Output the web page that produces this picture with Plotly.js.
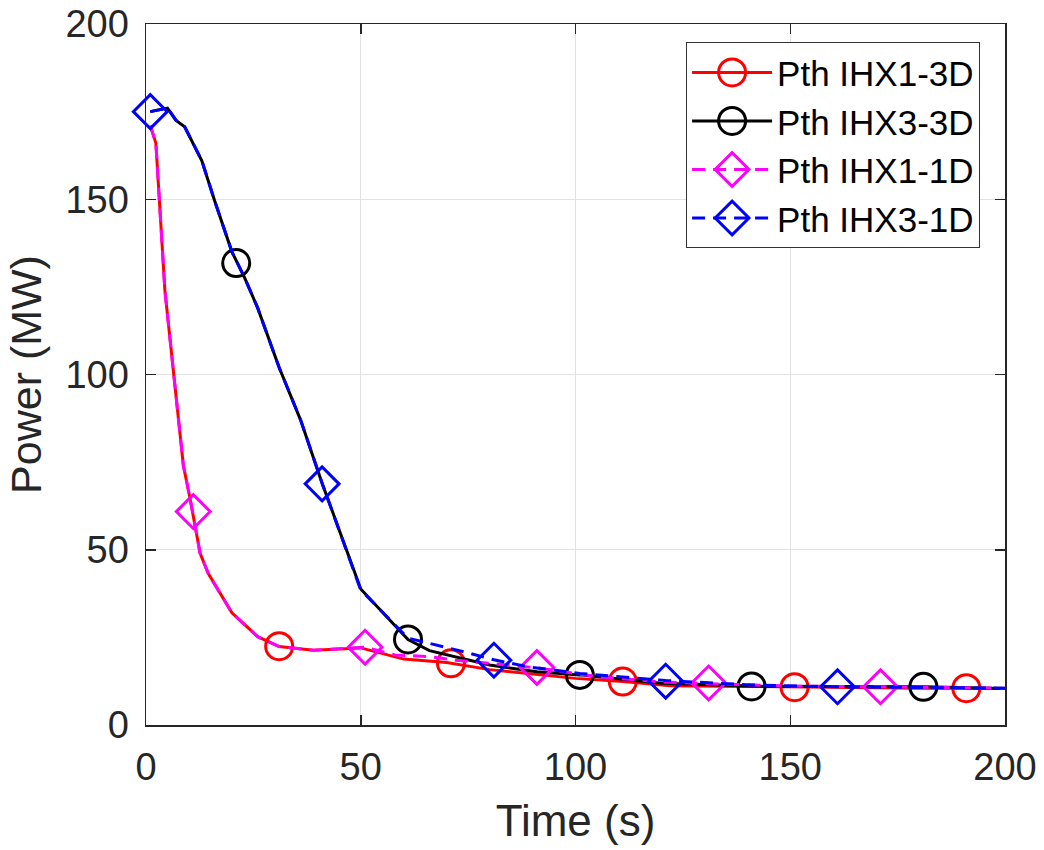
<!DOCTYPE html>
<html>
<head>
<meta charset="utf-8">
<script src="https://cdn.plot.ly/plotly-3.0.1.min.js"></script>
<style>body{margin:0;background:#fff}#chart{width:1044px;height:850px}</style>
</head>
<body>
<div id="chart"></div>
<script>
// IHX1-3D (red)
var t_r = [1, 2.3, 4.4, 6.4, 8.7, 10.2, 12.6, 14.5, 20, 26, 31, 39, 50, 60, 70, 80, 100, 111, 122, 140, 160, 180, 200];
var p_r = [171, 166, 124, 100.5, 74, 65, 49, 43.2, 32, 25.2, 22.4, 21.3, 22, 18.8, 17.8, 15.8, 13.3, 12.4, 11.2, 11.0, 10.7, 10.5, 10.4];
var mk_r_t = [31, 71, 111, 151, 191];
var mk_r_p = [22.5, 17.6, 12.4, 10.8, 10.5];

// IHX3-3D (black)
var t_k = [1, 5, 7, 9, 13, 16, 20, 23, 26, 31, 36, 41, 50, 61, 66, 80, 91, 101, 120, 141, 160, 181, 200];
var p_k = [175, 176, 172.5, 170.7, 161, 149.5, 135, 127.5, 119, 102, 87, 69, 38.8, 24.4, 21.2, 17.1, 15.2, 14.3, 11.9, 11.1, 11.0, 10.9, 10.4];
var mk_k_t = [21, 61, 101, 141, 181];
var mk_k_p = [131.8, 24.4, 14.3, 11.0, 10.9];

// IHX1-1D (magenta)
var t_m = [1, 2.3, 4.4, 6.4, 8.7, 10.2, 12.6, 14.5, 20, 26, 31, 39, 51, 58, 66, 72, 91, 105, 120, 131, 150, 171, 200];
var p_m = [171, 166, 124, 100.5, 74, 65, 49, 43.2, 32, 25.2, 22.4, 21.3, 22.2, 20, 19.5, 18.5, 16.3, 13.8, 12.3, 11.8, 11.1, 10.9, 10.5];
var mk_m_t = [11, 51, 91, 131, 171];
var mk_m_p = [60.9, 22.2, 16.4, 12.0, 10.9];

// IHX3-1D (blue)
var t_b = [1, 5, 7, 9, 13, 16, 20, 23, 26, 31, 36, 41, 50, 61, 74, 81, 89, 101, 121, 141, 161, 181, 200];
var p_b = [175, 176, 172.5, 170.7, 161, 149.5, 135, 127.5, 119, 102, 87, 69, 38.5, 24.8, 20.9, 18.6, 16.6, 14.7, 12.7, 11.4, 10.9, 10.7, 10.5];
var mk_b_t = [1, 41, 81, 121, 161];
var mk_b_p = [175, 68.8, 18.5, 12.5, 10.9];

var names = ['Pth IHX1-3D', 'Pth IHX3-3D', 'Pth IHX1-1D', 'Pth IHX3-1D'];
var xTicks = [0, 50, 100, 150, 200];
var yTicks = [0, 50, 100, 150, 200];

var series = [
  {t: t_r, p: p_r, mt: mk_r_t, mp: mk_r_p, color: '#ff0000', dash: 'solid', symbol: 'circle-open', size: 27},
  {t: t_k, p: p_k, mt: mk_k_t, mp: mk_k_p, color: '#000000', dash: 'solid', symbol: 'circle-open', size: 27},
  {t: t_m, p: p_m, mt: mk_m_t, mp: mk_m_p, color: '#ff00ff', dash: '13px,8px', symbol: 'diamond-open', size: 26},
  {t: t_b, p: p_b, mt: mk_b_t, mp: mk_b_p, color: '#0000ff', dash: '13px,8px', symbol: 'diamond-open', size: 26}
];

var traces = [];
series.forEach(function (s, i) {
  traces.push({x: s.t, y: s.p, type: 'scatter', mode: 'lines', showlegend: false,
    line: {color: s.color, width: 3, dash: s.dash}, hoverinfo: 'skip'});
  traces.push({x: s.mt, y: s.mp, type: 'scatter', mode: 'markers', showlegend: false,
    marker: {symbol: s.symbol, size: s.size, color: s.color, line: {color: s.color, width: 3}}, cliponaxis: false});
});
series.forEach(function (s, i) {
  traces.push({x: [null], y: [null], type: 'scatter', mode: 'lines+markers', name: names[i],
    line: {color: s.color, width: 3, dash: s.dash},
    marker: {symbol: s.symbol, size: s.size, color: s.color, line: {color: s.color, width: 3}}});
});

var axisCommon = {
  showline: true, linecolor: '#262626', linewidth: 1.5, mirror: 'ticks',
  ticks: 'inside', ticklen: 10, tickwidth: 1.5, tickcolor: '#262626',
  showgrid: true, gridcolor: '#e1e1e1', gridwidth: 1, zeroline: false,
  tickfont: {family: 'Liberation Sans, Arial, sans-serif', size: 38, color: '#262626'}
};

var layout = {
  width: 1044, height: 850,
  margin: {l: 146, r: 39, t: 24, b: 125},
  paper_bgcolor: '#ffffff', plot_bgcolor: '#ffffff',
  font: {family: 'Liberation Sans, Arial, sans-serif', color: '#262626'},
  xaxis: Object.assign({}, axisCommon, {
    range: [0, 200], tickvals: xTicks, ticktext: xTicks.map(String), ticklabelstandoff: 8,
    title: {text: 'Time (s)', font: {size: 44, color: '#262626'}, standoff: 18}
  }),
  yaxis: Object.assign({}, axisCommon, {
    range: [0, 200], tickvals: yTicks, ticktext: yTicks.map(String), ticklabelstandoff: 8,
    title: {text: 'Power (MW)', font: {size: 43, color: '#262626'}, standoff: 10}
  }),
  legend: {
    x: 0.971, y: 0.974, xanchor: 'right', yanchor: 'top',
    bgcolor: '#ffffff', bordercolor: '#333333', borderwidth: 1,
    font: {size: 35, color: '#000000', family: 'Liberation Sans, Arial, sans-serif'},
    itemwidth: 80
  },
  showlegend: true
};

var circlePath = 'M13.5,0A13.5,13.5 0 1,1 0,-13.5A13.5,13.5 0 0,1 13.5,0Z';
var diamondPath = 'M16.9,0L0,16.9L-16.9,0L0,-16.9Z';

var gd = document.getElementById('chart');
Plotly.newPlot(gd, traces, layout, {displayModeBar: false, staticPlot: true}).then(function () {
  var items = gd.querySelectorAll('.legend .traces');
  items.forEach(function (g, i) {
    g.querySelectorAll('path.scatterpts').forEach(function (p) {
      p.setAttribute('d', i < 2 ? circlePath : diamondPath);
      p.style.strokeWidth = '3px';
    });
    g.querySelectorAll('path.js-line').forEach(function (p) {
      p.style.strokeWidth = '3px';
    });
  });
});
</script>
</body>
</html>
